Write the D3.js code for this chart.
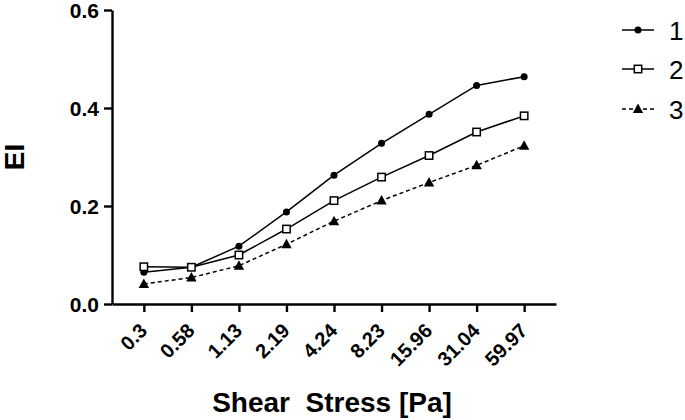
<!DOCTYPE html>
<html><head><meta charset="utf-8">
<script src="https://cdn.jsdelivr.net/npm/d3@7"></script>
<style>body{margin:0;background:#fff}svg{display:block}</style>
</head><body><svg id="c" width="685" height="420"></svg>
<script>
const categories = ["0.3","0.58","1.13","2.19","4.24","8.23","15.96","31.04","59.97"];
const series1 = [0.065,0.075,0.118,0.188,0.263,0.328,0.387,0.446,0.464];
const series2 = [0.076,0.075,0.100,0.153,0.211,0.259,0.303,0.351,0.384];
const series3 = [0.041,0.054,0.078,0.122,0.169,0.211,0.248,0.283,0.323];
const seriesNames = ["1","2","3"];
const yTicks = [0.0,0.2,0.4,0.6];

const svg = d3.select("#c");
const x = d3.scalePoint().domain(categories).range([112,556]).padding(0.67);
const y = d3.scaleLinear().domain([0,0.6]).range([304,10]);
const font = "Arial, 'Liberation Sans', sans-serif";

// axes
const xa = svg.append("g").attr("transform","translate(0,304)")
  .call(d3.axisBottom(x).tickSize(8).tickSizeOuter(0));
xa.select(".domain").attr("stroke","#000").attr("stroke-width",2.4);
xa.selectAll(".tick line").attr("stroke-width",2.4);
xa.selectAll(".tick text").attr("font-family",font).attr("font-weight","bold")
  .attr("font-size",20).attr("fill","#000")
  .attr("text-anchor","end").attr("dy",0).attr("y",0)
  .attr("transform","translate(4,28) rotate(-45)");

const ya = svg.append("g").attr("transform","translate(112,0)")
  .call(d3.axisLeft(y).tickValues(yTicks).tickFormat(d3.format(".1f")).tickSize(8).tickSizeOuter(0));
ya.select(".domain").attr("stroke","#000").attr("stroke-width",2.4);
ya.selectAll(".tick line").attr("stroke-width",2.4);
ya.selectAll(".tick text").attr("font-family",font).attr("font-weight","bold")
  .attr("font-size",21).attr("fill","#000").attr("x",-13).attr("dy","0.36em");

// labels
svg.append("text").attr("transform","translate(24,157) rotate(-90)")
  .attr("text-anchor","middle").attr("font-family",font).attr("font-weight","bold")
  .attr("font-size",28).text("EI");
svg.append("text").attr("x",332).attr("y",412).attr("text-anchor","middle")
  .attr("font-family",font).attr("font-weight","bold").attr("font-size",28)
  .style("white-space","pre").text("Shear  Stress [Pa]");

const allSeries = [series1,series2,series3];
const dashes = [null,null,"4,3"];
const line = d3.line().x((d,i)=>x(categories[i])).y(d=>y(d));

function marker(g, type){
  if(type===0) g.append("circle").attr("r",3.5).attr("fill","#000");
  else if(type===1) g.append("rect").attr("x",-3.7).attr("y",-3.7).attr("width",7.4).attr("height",7.4)
      .attr("fill","#fff").attr("stroke","#000").attr("stroke-width",1.5);
  else g.append("path").attr("d","M0,-5.5L5.2,4L-5.2,4Z").attr("fill","#000");
}

allSeries.forEach((s,k)=>{
  svg.append("path").datum(s).attr("d",line).attr("fill","none").attr("stroke","#000")
    .attr("stroke-width",1.5).attr("stroke-dasharray",dashes[k]);
});
allSeries.forEach((s,k)=>{
  s.forEach((v,i)=>{
    const g = svg.append("g").attr("transform",`translate(${x(categories[i])},${y(v)})`);
    marker(g,k);
  });
});

// legend
const legY = [30,69,109];
seriesNames.forEach((n,k)=>{
  svg.append("line").attr("x1",622).attr("x2",654).attr("y1",legY[k]).attr("y2",legY[k])
    .attr("stroke","#000").attr("stroke-width",1.5).attr("stroke-dasharray",dashes[k]);
  const g = svg.append("g").attr("transform",`translate(638,${legY[k]})`);
  marker(g,k);
  svg.append("text").attr("x",669).attr("y",legY[k]+10)
    .attr("font-family",font).attr("font-size",26).text(n);
});
</script></body></html>
